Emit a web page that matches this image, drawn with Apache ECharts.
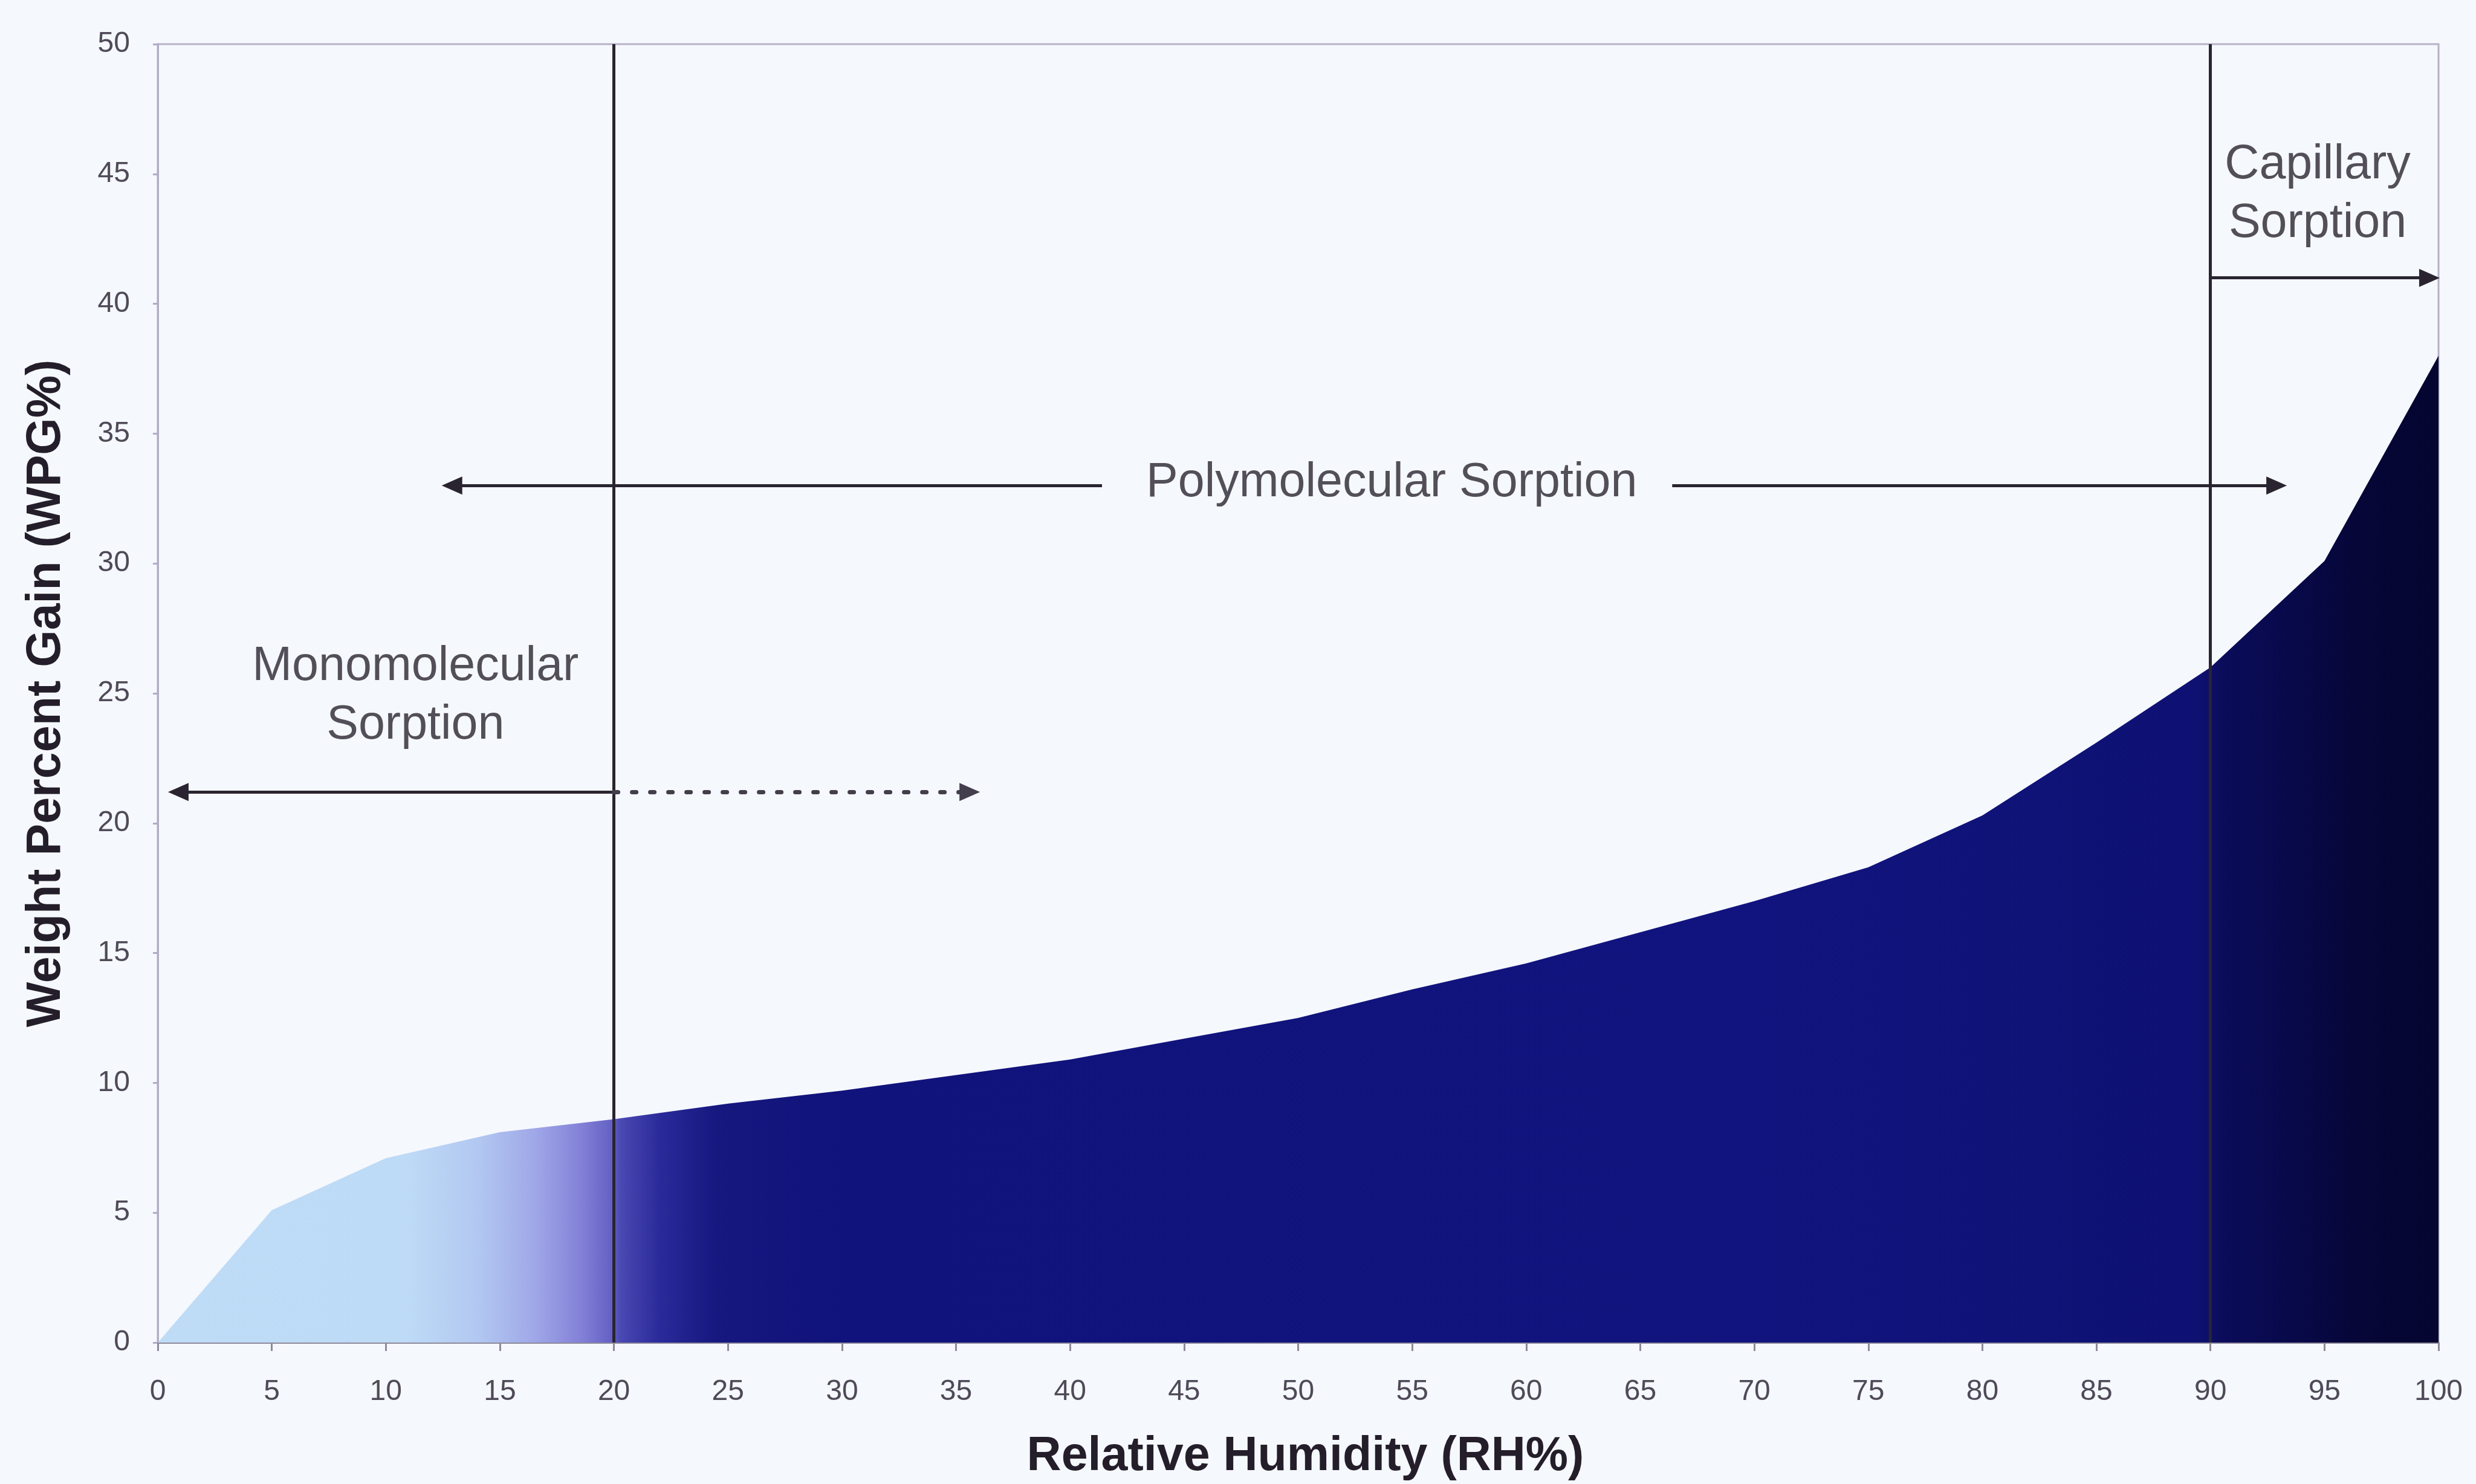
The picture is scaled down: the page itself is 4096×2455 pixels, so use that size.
<!DOCTYPE html>
<html>
<head>
<meta charset="utf-8">
<script src="https://cdn.jsdelivr.net/npm/echarts@6/dist/echarts.min.js"></script>
<style>
  html, body { margin: 0; padding: 0; background: #f5f8fd; }
  #chart { width: 4096px; height: 2455px; }
</style>
</head>
<body>
<div id="chart"></div>
<script>
// Moisture sorption isotherm: weight gain against relative humidity
const humidity   = [0, 5, 10, 15, 20, 25, 30, 35, 40, 45, 50, 55, 60, 65, 70, 75, 80, 85, 90, 95, 100];
const weightGain = [0, 5.1, 7.1, 8.1, 8.6, 9.2, 9.7, 10.3, 10.9, 11.7, 12.5, 13.6, 14.6, 15.8, 17.0, 18.3, 20.3, 23.1, 26.0, 30.1, 38.0];

// Axis ranges
const xRange = [0, 100, 5];
const yRange = [0, 50, 5];

// Region boundaries (RH%)
const regionBounds = [20, 90];

// Region labels: [x, y, text]
const regionLabels = [
  [11.3, 24.9, 'Monomolecular\nSorption'],
  [54.1, 33.1, 'Polymolecular Sorption'],
  [94.7, 44.2, 'Capillary\nSorption']
];

// Arrow spans: [fromX, toX, y]
const monoSolid   = [0.9, 20, 21.2];
const monoDotted  = [20, 35.6, 21.2];
const polyLeft    = [12.9, 41.4, 33.0];
const polyRight   = [66.4, 92.9, 33.0];
const capillary   = [90, 99.6, 41.0];

const FONT = '"Liberation Sans", Arial, Helvetica, sans-serif';
const INK = '#2a2430';
const ARROW_SIZE = [30, 34];

function arrow(span, startHead, endHead, dotted) {
  return [
    { coord: [span[0], span[2]], symbol: startHead ? 'triangle' : 'none', symbolSize: ARROW_SIZE },
    { coord: [span[1], span[2]], symbol: endHead ? 'triangle' : 'none', symbolSize: ARROW_SIZE,
      lineStyle: dotted ? { type: [7, 23], cap: 'round', width: 7, color: '#443e4c' } : undefined }
  ];
}

const chart = echarts.init(document.getElementById('chart'), null, { renderer: 'canvas' });

chart.setOption({
  backgroundColor: '#f5f8fd',
  animation: false,
  grid: {
    left: 261, right: 62, top: 73, bottom: 231,
    show: true, borderColor: '#b6b2c8', borderWidth: 3, backgroundColor: 'transparent'
  },
  xAxis: {
    type: 'value', min: xRange[0], max: xRange[1], interval: xRange[2],
    name: 'Relative Humidity (RH%)', nameLocation: 'middle', nameGap: 150,
    nameTextStyle: { fontFamily: FONT, fontSize: 79, fontWeight: 'bold', color: '#241e2a', padding: [0, 0, 0, 24] },
    axisLine: { show: true, lineStyle: { color: '#8e8a9c', width: 3 } },
    axisTick: { show: true, length: 14, lineStyle: { color: '#8e8a9c', width: 3 } },
    axisLabel: { fontFamily: FONT, fontSize: 48, color: '#4f4a58', margin: 58 },
    splitLine: { show: false }
  },
  yAxis: {
    type: 'value', min: yRange[0], max: yRange[1], interval: yRange[2],
    name: 'Weight Percent Gain (WPG%)', nameLocation: 'middle', nameGap: 144,
    nameTextStyle: { fontFamily: FONT, fontSize: 79, fontWeight: 'bold', color: '#241e2a' },
    axisLine: { show: true, lineStyle: { color: '#b0acc4', width: 3 } },
    axisTick: { show: true, length: 8, lineStyle: { color: '#b0acc4', width: 3 } },
    axisLabel: { fontFamily: FONT, fontSize: 48, color: '#4f4a58', margin: 46 },
    splitLine: { show: false }
  },
  series: [
    {
      name: 'WPG',
      type: 'line',
      data: humidity.map((h, i) => [h, weightGain[i]]),
      symbol: 'none',
      smooth: false,
      lineStyle: { width: 0 },
      areaStyle: {
        opacity: 1,
        color: new echarts.graphic.LinearGradient(0, 0, 1, 0, [
          { offset: 0.00, color: '#bfdcf7' },
          { offset: 0.11, color: '#bddaf6' },
          { offset: 0.14, color: '#b2c8f1' },
          { offset: 0.165, color: '#a0a8e8' },
          { offset: 0.185, color: '#8482d8' },
          { offset: 0.199, color: '#6461c4' },
          { offset: 0.203, color: '#4a48b2' },
          { offset: 0.22, color: '#2a2a9a' },
          { offset: 0.245, color: '#16177f' },
          { offset: 0.30, color: '#10137b' },
          { offset: 0.70, color: '#11147e' },
          { offset: 0.895, color: '#0e1172' },
          { offset: 0.905, color: '#0b0c5a' },
          { offset: 0.935, color: '#08094a' },
          { offset: 0.965, color: '#060638' },
          { offset: 1.00, color: '#050530' }
        ])
      },
      markLine: {
        silent: true,
        symbol: 'none',
        label: { show: false },
        lineStyle: { color: INK, width: 5, type: 'solid' },
        emphasis: { disabled: true },
        data: [
          [ { coord: [regionBounds[0], yRange[0]] }, { coord: [regionBounds[0], yRange[1]] } ],
          [ { coord: [regionBounds[1], yRange[0]] }, { coord: [regionBounds[1], yRange[1]] } ],
          arrow(monoSolid, true, false, false),
          arrow(monoDotted, false, true, true),
          arrow(polyLeft, true, false, false),
          arrow(polyRight, false, true, false),
          arrow(capillary, false, true, false)
        ]
      },
      z: 2
    },
    {
      name: 'labels',
      type: 'scatter',
      data: regionLabels,
      symbolSize: 0,
      silent: true,
      label: {
        show: true,
        position: 'inside',
        formatter: p => p.data[2],
        fontFamily: FONT,
        fontSize: 79,
        lineHeight: 97,
        color: '#2a2430',
        align: 'center',
        verticalAlign: 'middle'
      },
      z: 5
    }
  ]
});
</script>
</body>
</html>
